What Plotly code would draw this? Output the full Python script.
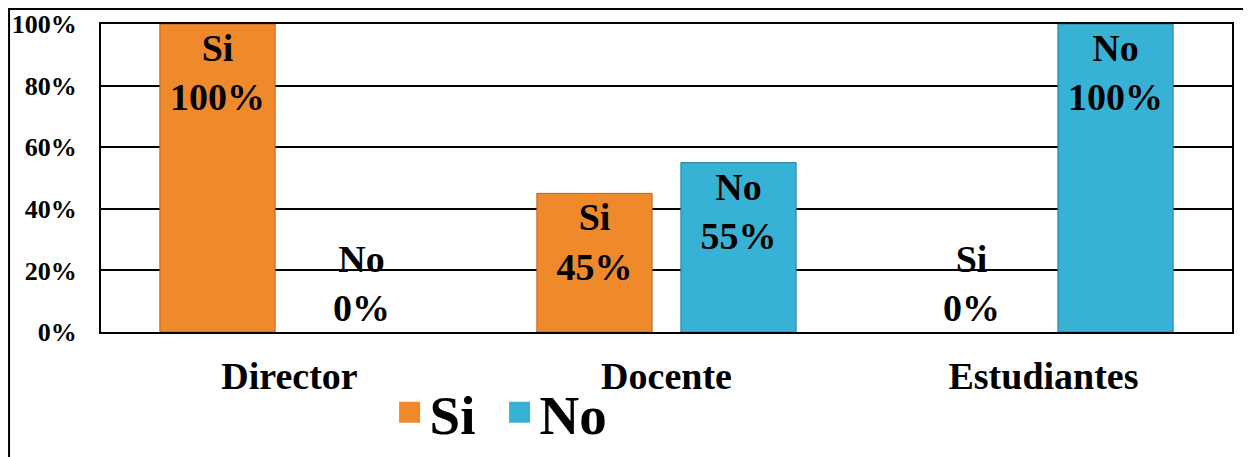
import plotly.graph_objects as go

# Data
categories = ['Director', 'Docente', 'Estudiantes']
si_values = [100, 45, 0]
no_values = [0, 55, 100]
tick_values = [0, 20, 40, 60, 80, 100]
tick_labels = [f"{v}%" for v in tick_values]

FONT = 'Liberation Serif'
SI_COLOR = '#EE8A2C'
SI_EDGE = '#B8611A'
NO_COLOR = '#38B2D4'
NO_EDGE = '#23809C'


def bar_trace(name, values, color, edge):
    labels = [f"{name}<br>{v}%" for v in values]
    positions = ['inside' if v > 0 else 'outside' for v in values]
    edge_widths = [1 if v > 0 else 0 for v in values]
    return go.Bar(
        x=categories,
        y=values,
        name=name,
        showlegend=False,
        text=labels,
        textposition=positions,
        insidetextanchor='end',
        textangle=0,
        cliponaxis=False,
        textfont=dict(family=FONT, size=38, color='black', weight='bold'),
        marker=dict(color=color, line=dict(color=edge, width=edge_widths)),
    )


def legend_marker(name, color):
    # legend-only entry with a bigger square swatch
    return go.Scatter(
        x=[None], y=[None], name=name, mode='markers',
        marker=dict(symbol='square', size=16, color=color,
                    line=dict(color=color, width=5)),
    )


fig = go.Figure()
fig.add_trace(bar_trace('Si', si_values, SI_COLOR, SI_EDGE))
fig.add_trace(bar_trace('No', no_values, NO_COLOR, NO_EDGE))
fig.add_trace(legend_marker('Si', SI_COLOR))
fig.add_trace(legend_marker('No', NO_COLOR))

# page body has an 8px margin, so the figure is 8px smaller each way
fig.update_layout(
    width=1243,
    height=449,
    margin=dict(l=93, r=19, t=16, b=125, autoexpand=False),
    paper_bgcolor='white',
    plot_bgcolor='white',
    barmode='group',
    bargap=0.236,
    bargroupgap=0.2,
    uniformtext=dict(minsize=8, mode='show'),
    font=dict(family=FONT, color='black', weight='bold'),
    showlegend=True,
    legend=dict(
        orientation='h',
        xref='container', yref='container',
        x=0.307, xanchor='left',
        y=0.194, yanchor='top',
        font=dict(family=FONT, size=55, color='black', weight='bold'),
        itemwidth=30,
        itemsizing='trace',
        entrywidth=65,
        bgcolor='rgba(0,0,0,0)',
    ),
    xaxis=dict(
        showline=True, linecolor='black', linewidth=2, mirror=True,
        showgrid=False, automargin=False,
        tickfont=dict(family=FONT, size=38, color='black', weight='bold'),
        ticks='', ticklabelstandoff=9,
    ),
    yaxis=dict(
        range=[0, 100],
        tickvals=tick_values,
        ticktext=tick_labels,
        showline=True, linecolor='black', linewidth=2, mirror=True,
        showgrid=True, gridcolor='black', gridwidth=1.5,
        zeroline=False, automargin=False,
        tickfont=dict(family=FONT, size=26, color='black', weight='bold'),
        ticks='', ticklabelstandoff=17,
    ),
    shapes=[
        # outer chart border (runs off the right and bottom edges)
        dict(type='rect', xref='paper', yref='paper',
             x0=-0.0813, x1=1.2, y0=-0.6, y1=1.0487,
             line=dict(color='black', width=2), fillcolor='rgba(0,0,0,0)',
             layer='below'),
    ],
)

fig.write_html("out.html")
